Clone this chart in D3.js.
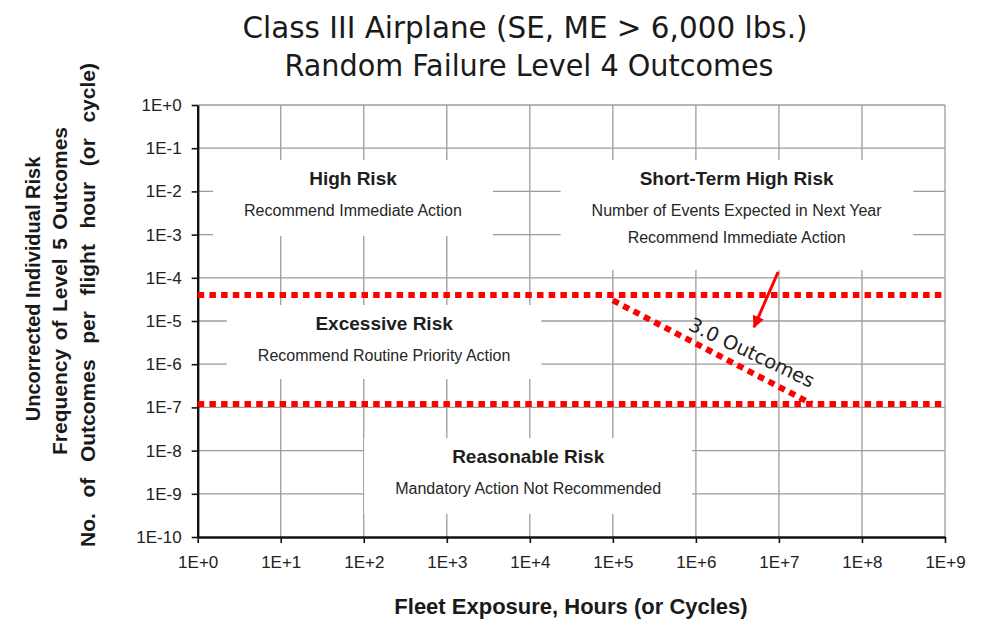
<!DOCTYPE html>
<html><head><meta charset="utf-8">
<script src="https://cdn.jsdelivr.net/npm/d3@7"></script>
<style>body{margin:0;background:#fff;} svg{display:block;}</style>
</head><body>
<svg id="chart" width="983" height="632"></svg>
<script>
// ---------------- data ----------------
const xTickValues = [1, 1e1, 1e2, 1e3, 1e4, 1e5, 1e6, 1e7, 1e8, 1e9];
const xTickLabels = ["1E+0","1E+1","1E+2","1E+3","1E+4","1E+5","1E+6","1E+7","1E+8","1E+9"];
const yTickValues = [1, 1e-1, 1e-2, 1e-3, 1e-4, 1e-5, 1e-6, 1e-7, 1e-8, 1e-9, 1e-10];
const yTickLabels = ["1E+0","1E-1","1E-2","1E-3","1E-4","1E-5","1E-6","1E-7","1E-8","1E-9","1E-10"];

const thresholdLevels = [4e-5, 1.2e-7];          // horizontal risk boundaries
const outcomeExposure = [1e5, 2.5e7];            // 3.0 outcomes line (x * y = 3)
const outcomeFrequency = [3e-5, 1.2e-7];
const outcomeLabel = "3.0 Outcomes";
const outcomeLabelExposure = Math.pow(10, 6.58);

const regionTitles = ["High Risk", "Short-Term High Risk", "Excessive Risk", "Reasonable Risk"];
const regionNotes = [
  ["Recommend Immediate Action"],
  ["Number of Events Expected in Next Year", "Recommend Immediate Action"],
  ["Recommend Routine Priority Action"],
  ["Mandatory Action Not Recommended"]
];
const regionExposure = [Math.pow(10,1.87), Math.pow(10,6.49), Math.pow(10,2.245), Math.pow(10,3.98)];
const regionFrequency = [Math.pow(10,-1.852), Math.pow(10,-1.852), Math.pow(10,-5.208), Math.pow(10,-8.287)];

const arrowExposure = [Math.pow(10,6.99), Math.pow(10,6.70)];
const arrowFrequency = [Math.pow(10,-3.866), Math.pow(10,-5.14)];

const titleLines = ["Class III Airplane (SE, ME > 6,000 lbs.)", "Random Failure Level 4 Outcomes"];
const yTitleLines = ["Uncorrected Individual Risk", "Frequency of Level 5 Outcomes", "No. of Outcomes per flight hour (or cycle)"];
const xTitle = "Fleet Exposure, Hours (or Cycles)";

// ---------------- layout ----------------
const W = 983, H = 632;
const plot = {left: 197.7, right: 945, top: 105, bottom: 537};
const boxPadX = 31, boxPadTop = 8, boxPadBottom = [17, 24, 15, 17];

const svg = d3.select("#chart");
svg.append("rect").attr("width", W).attr("height", H).attr("fill", "#fff");

const x = d3.scaleLog().domain([1, 1e9]).range([plot.left, plot.right]);
const y = d3.scaleLog().domain([1e-10, 1]).range([plot.bottom, plot.top]);

const sans = "'Liberation Sans', Arial, sans-serif";
const tahoma = "'DejaVu Sans', Verdana, sans-serif";

// gridlines
const grid = svg.append("g").attr("stroke", "#9c9c9c").attr("stroke-width", 1.3);
grid.selectAll("line.v").data(xTickValues.slice(1)).enter().append("line")
  .attr("x1", d => x(d)).attr("x2", d => x(d))
  .attr("y1", plot.top).attr("y2", plot.bottom);
grid.selectAll("line.h").data(yTickValues.slice(0, -1)).enter().append("line")
  .attr("x1", plot.left).attr("x2", plot.right)
  .attr("y1", d => y(d)).attr("y2", d => y(d));

// region label boxes (white background covering gridlines)
const boxLayer = svg.append("g");
const labelLayer = svg.append("g");
regionTitles.forEach((t, i) => {
  const g = labelLayer.append("g")
    .attr("transform", `translate(${x(regionExposure[i])},${y(regionFrequency[i])})`);
  g.append("text").attr("text-anchor", "middle")
    .attr("font-family", sans).attr("font-weight", "bold").attr("font-size", 19)
    .attr("fill", "#1e1e1e").text(t);
  regionNotes[i].forEach((n, j) => {
    g.append("text").attr("text-anchor", "middle")
      .attr("y", 31 + j * 27)
      .attr("font-family", sans).attr("font-size", 16)
      .attr("fill", "#262626").text(n);
  });
  const bb = g.node().getBBox();
  boxLayer.append("rect")
    .attr("x", x(regionExposure[i]) + bb.x - boxPadX)
    .attr("y", y(regionFrequency[i]) + bb.y - boxPadTop)
    .attr("width", bb.width + 2 * boxPadX)
    .attr("height", bb.height + boxPadTop + boxPadBottom[i])
    .attr("fill", "#fff");
});

// axes
const yAxis = d3.axisLeft(y).tickValues(yTickValues)
  .tickFormat((d, i) => yTickLabels[i]).tickSize(6).tickSizeOuter(0).tickPadding(10);
const xAxis = d3.axisBottom(x).tickValues(xTickValues)
  .tickFormat((d, i) => xTickLabels[i]).tickSize(6).tickSizeOuter(0).tickPadding(13);

const gy = svg.append("g").attr("transform", `translate(${plot.left},0)`).call(yAxis);
const gx = svg.append("g").attr("transform", `translate(0,${plot.bottom})`).call(xAxis);
[gx, gy].forEach(g => {
  g.select(".domain").attr("stroke", "#111").attr("stroke-width", 2.4);
  g.selectAll(".tick line").attr("stroke", "#111").attr("stroke-width", 1.6);
  g.selectAll(".tick text").attr("font-family", sans).attr("font-size", 17).attr("fill", "#222");
});

// red dotted threshold lines
const red = "#ff0000";
svg.append("g").selectAll("line").data(thresholdLevels).enter().append("line")
  .attr("x1", x(1)).attr("x2", x(1e9))
  .attr("y1", d => y(d)).attr("y2", d => y(d))
  .attr("stroke", red).attr("stroke-width", 6).attr("stroke-dasharray", "6.5 5.2");

// 3.0 outcomes diagonal
const outcomePts = outcomeExposure.map((e, i) => [x(e), y(outcomeFrequency[i])]);
svg.append("path").attr("d", d3.line()(outcomePts))
  .attr("fill", "none").attr("stroke", red).attr("stroke-width", 6)
  .attr("stroke-dasharray", "6.5 5.2");

const ang = Math.atan2(outcomePts[1][1] - outcomePts[0][1], outcomePts[1][0] - outcomePts[0][0]) * 180 / Math.PI;
const lx = x(outcomeLabelExposure), ly = y(3 / outcomeLabelExposure);
svg.append("text")
  .attr("transform", `translate(${lx},${ly}) rotate(${ang - 2}) translate(0,-11)`)
  .attr("text-anchor", "middle").attr("font-family", tahoma).attr("font-size", 19.5)
  .attr("fill", "#222").text(outcomeLabel);

// arrow
const defs = svg.append("defs");
defs.append("marker").attr("id", "ah").attr("viewBox", "0 0 10 10")
  .attr("refX", 9).attr("refY", 5).attr("markerWidth", 4.5).attr("markerHeight", 4)
  .attr("orient", "auto").attr("markerUnits", "strokeWidth")
  .append("path").attr("d", "M0,0 L10,5 L0,10 Z").attr("fill", red);
svg.append("line")
  .attr("x1", x(arrowExposure[0])).attr("y1", y(arrowFrequency[0]))
  .attr("x2", x(arrowExposure[1])).attr("y2", y(arrowFrequency[1]))
  .attr("stroke", red).attr("stroke-width", 3).attr("marker-end", "url(#ah)");

// titles
const titleCenters = [525, 529], titleBase = [38, 76], titleLens = [565, 489];
titleLines.forEach((t, i) => {
  svg.append("text").attr("x", titleCenters[i]).attr("y", titleBase[i])
    .attr("text-anchor", "middle").attr("font-family", tahoma).attr("font-size", 31)
    .attr("fill", "#1a1a1a").attr("textLength", titleLens[i])
    .attr("lengthAdjust", "spacingAndGlyphs").text(t);
});

// y-axis title (word gaps widened to the reference spans)
const yTitleX = [40, 67, 95], yTitleCenter = [289, 291, 305], yTitleSpan = [264, 328, 484];
const yTitleSize = [20, 21, 21];
yTitleLines.forEach((t, i) => {
  const tx = svg.append("text")
    .attr("transform", `translate(${yTitleX[i]},${yTitleCenter[i]}) rotate(-90)`)
    .attr("text-anchor", "middle").attr("font-family", sans).attr("font-weight", "bold")
    .attr("font-size", yTitleSize[i]).attr("fill", "#1a1a1a").text(t);
  const len = tx.node().getComputedTextLength();
  const spaces = (t.match(/ /g) || []).length;
  const extra = Math.max(0, (yTitleSpan[i] - len) / spaces);
  tx.attr("word-spacing", extra);
});

// x-axis title
svg.append("text").attr("x", 571).attr("y", 614).attr("text-anchor", "middle")
  .attr("font-family", sans).attr("font-weight", "bold").attr("font-size", 22)
  .attr("fill", "#1a1a1a").text(xTitle);
</script>
</body></html>
